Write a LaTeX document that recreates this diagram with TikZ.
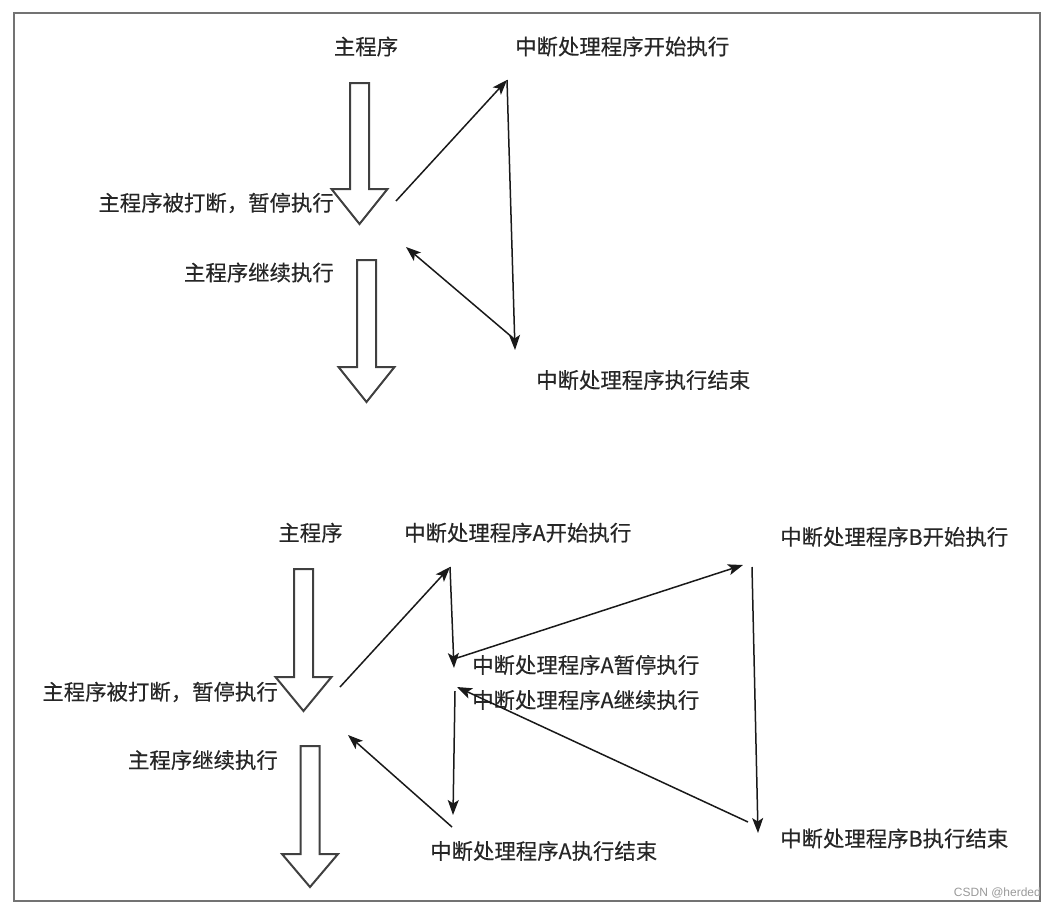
\documentclass[tikz,border=0pt]{standalone}
\usepackage{fontspec}
\setmainfont{Noto Sans CJK SC}
\newfontfamily\lblfont[FakeBold=0.35]{Noto Sans CJK SC}
\newfontfamily\wmfont{Liberation Sans}
\usetikzlibrary{arrows.meta}
\newcommand\blockarr[5]{% name, cx, top, base, tip
  \draw[blk] (#2-9.5,#3) -- (#2+9.5,#3) -- (#2+9.5,#4) -- (#2+28,#4) -- (#2,#5) -- (#2-28,#4) -- (#2-9.5,#4) -- cycle;
  \coordinate (#1) at (#2,#5);}
\begin{document}
\begin{tikzpicture}[x=1pt,y=-1pt,
  lbl/.style={font=\lblfont\fontsize{21.4}{24}\selectfont, inner sep=0pt, text=black!85},
  con/.style={-{Stealth[length=15pt,width=11pt,inset=3.5pt]}, line width=1.5pt, draw=black!90},
  blk/.style={draw=black!75, line width=2pt, fill=white, line join=miter}]
\useasboundingbox (0,0) rectangle (1057,910);
\node[draw=black!55, line width=2pt, minimum width=1026pt, minimum height=888pt, inner sep=0pt, anchor=north west] (frame) at (12.7,11.7) {};

% ---------- top diagram ----------
\node[lbl] (tMain) at (366,46.5) {主程序};
\node[lbl, anchor=west] (tStart) at (515,46.5) {中断处理程序开始执行};
\node[lbl, anchor=east] (tPause) at (334,203) {主程序被打断，暂停执行};
\node[lbl, anchor=east] (tCont) at (334,272.5) {主程序继续执行};
\node[lbl, anchor=west] (tEnd) at (536,380) {中断处理程序执行结束};

\blockarr{tA1}{359.5}{83}{189}{224}
\blockarr{tA2}{366.5}{260}{367}{402}

\coordinate (p1) at (396,201);
\coordinate (p2) at (507,80);
\coordinate (p3) at (515,350);
\coordinate (p4) at (513,338);
\coordinate (p5) at (406,247);
\draw[con] (p1) -- (p2);
\draw[con] (p2) -- (p3);
\draw[con] (p4) -- (p5);

% ---------- bottom diagram ----------
\node[lbl] (bMain) at (310.5,532.7) {主程序};
\node[lbl, anchor=west] (bAStart) at (404,532.7) {中断处理程序A开始执行};
\node[lbl, anchor=west] (bBStart) at (780,536.8) {中断处理程序B开始执行};
\node[lbl, anchor=west] (bAPause) at (472,665) {中断处理程序A暂停执行};
\node[lbl, anchor=west] (bACont) at (472,700) {中断处理程序A继续执行};
\node[lbl, anchor=east] (bPause) at (278,692) {主程序被打断，暂停执行};
\node[lbl, anchor=east] (bCont) at (278,760) {主程序继续执行};
\node[lbl, anchor=west] (bAEnd) at (430,851) {中断处理程序A执行结束};
\node[lbl, anchor=west] (bBEnd) at (780,838.5) {中断处理程序B执行结束};

\blockarr{bA1}{303.5}{569}{677}{711}
\blockarr{bA2}{310}{746}{854}{887}

\coordinate (q1) at (340,687);
\coordinate (q2) at (450,567);
\coordinate (q3) at (454,668);
\coordinate (q4) at (457,658);
\coordinate (q5) at (743,565);
\coordinate (q6) at (752,567);
\coordinate (q7) at (758,833);
\coordinate (q8) at (748,822);
\coordinate (q9) at (457,687);
\coordinate (q10) at (455,691);
\coordinate (q11) at (453,815);
\coordinate (q12) at (452,827);
\coordinate (q13) at (348,735);
\draw[con] (q1) -- (q2);
\draw[con] (q2) -- (q3);
\draw[con] (q4) -- (q5);
\draw[con] (q6) -- (q7);
\draw[con] (q8) -- (q9);
\draw[con] (q10) -- (q11);
\draw[con] (q12) -- (q13);

\node[font=\wmfont\fontsize{12}{14}\selectfont, text=black!40, inner sep=0pt, anchor=east] (wm) at (1041,893) {CSDN @herded};
\end{tikzpicture}
\end{document}
